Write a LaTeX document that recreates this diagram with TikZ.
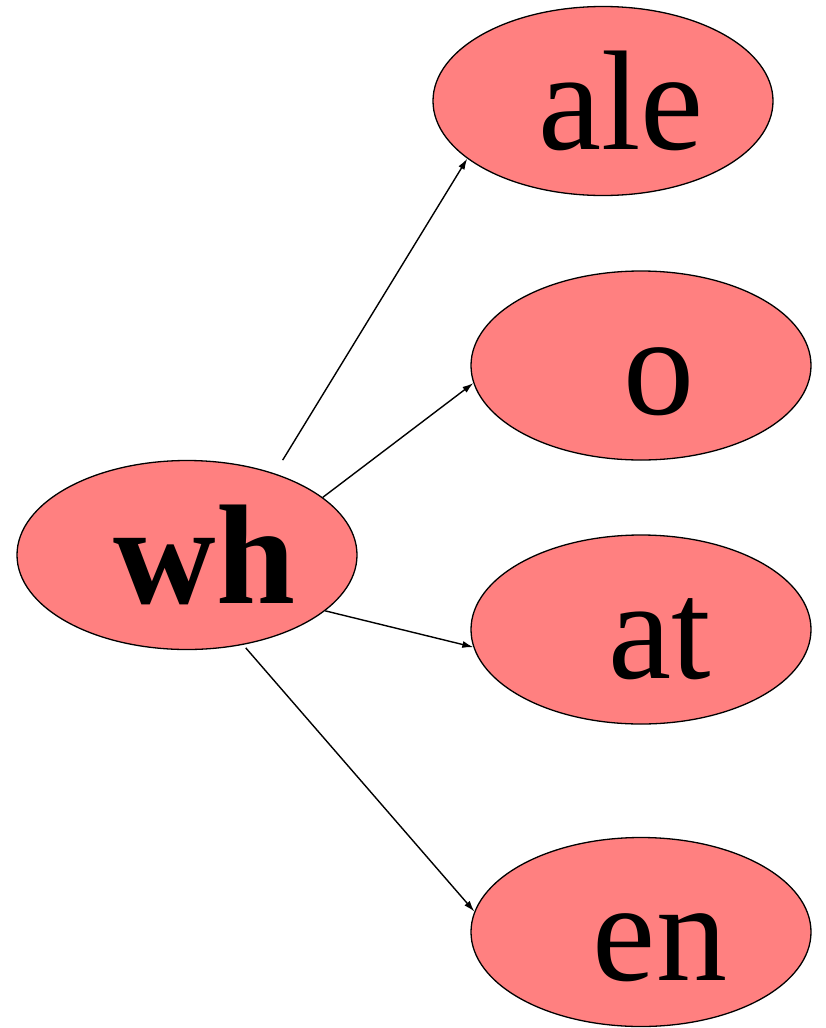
\documentclass[tikz,border=0pt]{standalone}
\usepackage{fontspec}
\setmainfont{Liberation Serif}
\usetikzlibrary{shapes.geometric,arrows.meta}
\definecolor{nodefill}{HTML}{FF8080}
\tikzset{
  bubble/.style={ellipse, draw=black, line width=1.3pt, fill=nodefill,
    minimum width=340pt, minimum height=189pt, inner sep=0pt},
  word/.style={anchor=base, inner sep=0pt, font=\fontsize{142}{150}\selectfont},
  link/.style={line width=1.4pt, -{Latex[length=11pt,width=7pt]}}
}
\begin{document}
\begin{tikzpicture}[x=1pt,y=-1pt]
\useasboundingbox (0,0) rectangle (826,1028);
\node[bubble] (wh) at (187,555) {};
\node[bubble] (ale) at (603,101) {};
\node[bubble] (o) at (641,365.5) {};
\node[bubble] (at) at (641,629.5) {};
\node[bubble] (en) at (641,932) {};
\node[word, font=\fontsize{142}{150}\selectfont\bfseries] (twh) at (204.5,603) {wh};
\node[word] (tale) at (621,149) {ale};
\node[word] (to) at (659,414) {o};
\node[word] (tat) at (659.5,678) {at};
\node[word] (ten) at (660,980) {en};
\draw[link, shorten <=15.5pt] (wh.43.3) -- (ale.203.9);
\draw[link] (wh.23.4) -- (o.186.7);
\draw[link] (wh.-22.5) -- (at.186.4);
\draw[link, shorten <=4pt] (wh.-58.8) -- (en.173.6);
\end{tikzpicture}
\end{document}
